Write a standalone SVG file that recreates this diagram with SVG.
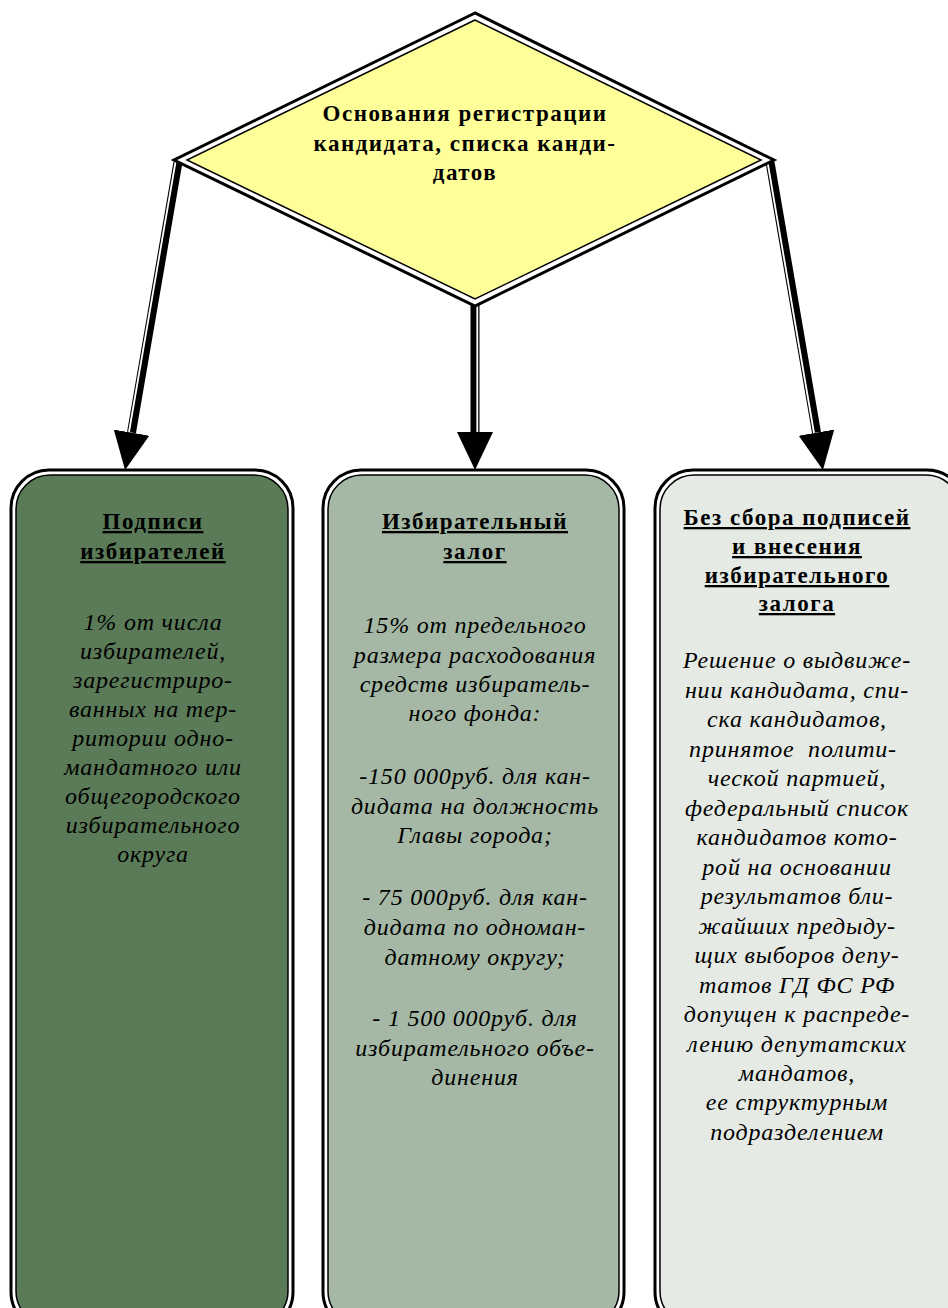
<svg xmlns="http://www.w3.org/2000/svg" width="948" height="1308" viewBox="0 0 948 1308">
<defs>
<style>
.ttl{font-family:"Liberation Serif",serif;font-weight:bold;font-size:23px;letter-spacing:1.5px;fill:#000;text-anchor:middle;text-decoration:underline}
.dtx{font-family:"Liberation Serif",serif;font-weight:bold;font-size:23px;letter-spacing:1.5px;fill:#000;text-anchor:middle}
.bod{font-family:"Liberation Serif",serif;font-style:italic;font-size:24px;letter-spacing:0.8px;fill:#000;text-anchor:middle}
.outer{fill:#fff;stroke:#000;stroke-width:3}
.inner{stroke:#000;stroke-width:1.5}
.shaft{stroke:#000;stroke-width:9;fill:none}
.gap{stroke:#fff;stroke-width:1.8;fill:none}
</style>
<marker id="head" markerUnits="userSpaceOnUse" markerWidth="40" markerHeight="40" viewBox="0 -20 40 40" refX="0" refY="0" orient="auto">
<path d="M0,-18 L38,0 L0,18 Z" fill="#000"/>
</marker>
</defs>
<rect width="948" height="1308" fill="#fff"/>
<g id="connectors">
<line class="shaft" x1="178" y1="162" x2="131.5" y2="432.6" marker-end="url(#head)"/>
<line class="gap" x1="175.5" y1="162" x2="129" y2="432"/>
<line class="shaft" x1="475" y1="302" x2="475" y2="432" marker-end="url(#head)"/>
<line class="gap" x1="477.3" y1="302" x2="477.3" y2="432"/>
<line class="shaft" x1="770" y1="162" x2="816.5" y2="432.6" marker-end="url(#head)"/>
<line class="gap" x1="767.5" y1="162" x2="814" y2="433"/>
</g>
<g id="diamond">
<polygon class="outer" points="475,13 174,160 475,306 774,160"/>
<polygon class="inner" fill="#FFFF99" points="475,20 187,160 475,299 761,160"/>
<text class="dtx" x="465" y="121">Основания регистрации</text>
<text class="dtx" x="465" y="151">кандидата, списка канди-</text>
<text class="dtx" x="465" y="180">датов</text>
</g>
<g id="box1">
<rect class="outer" x="11" y="470" width="282" height="860" rx="38"/>
<rect class="inner" fill="#5A7A58" x="16" y="475" width="272" height="850" rx="34"/>
<text class="ttl" x="153" y="529">Подписи</text>
<text class="ttl" x="153" y="559">избирателей</text>
<text class="bod" x="153" y="630">1% от числа</text>
<text class="bod" x="153" y="659">избирателей,</text>
<text class="bod" x="153" y="688">зарегистриро-</text>
<text class="bod" x="153" y="717">ванных на тер-</text>
<text class="bod" x="153" y="746">ритории одно-</text>
<text class="bod" x="153" y="775">мандатного или</text>
<text class="bod" x="153" y="804">общегородского</text>
<text class="bod" x="153" y="833">избирательного</text>
<text class="bod" x="153" y="862">округа</text>
</g>
<g id="box2">
<rect class="outer" x="323" y="470" width="301" height="860" rx="38"/>
<rect class="inner" fill="#A5B8A5" x="328" y="475" width="291" height="850" rx="34"/>
<text class="ttl" x="475" y="529">Избирательный</text>
<text class="ttl" x="475" y="559">залог</text>
<text class="bod" x="475" y="633">15% от предельного</text>
<text class="bod" x="475" y="663">размера расходования</text>
<text class="bod" x="475" y="692">средств избиратель-</text>
<text class="bod" x="475" y="721">ного фонда:</text>
<text class="bod" x="475" y="784">-150 000руб. для кан-</text>
<text class="bod" x="475" y="814">дидата на должность</text>
<text class="bod" x="475" y="843">Главы города;</text>
<text class="bod" x="475" y="905">- 75 000руб. для кан-</text>
<text class="bod" x="475" y="935">дидата по одноман-</text>
<text class="bod" x="475" y="965">датному округу;</text>
<text class="bod" x="475" y="1026">- 1 500 000руб. для</text>
<text class="bod" x="475" y="1056">избирательного объе-</text>
<text class="bod" x="475" y="1085">динения</text>
</g>
<g id="box3">
<rect class="outer" x="655" y="470" width="310" height="860" rx="38"/>
<rect class="inner" fill="#E5EAE4" x="660" y="475" width="300" height="850" rx="34"/>
<text class="ttl" x="797" y="525">Без сбора подписей</text>
<text class="ttl" x="797" y="554">и внесения</text>
<text class="ttl" x="797" y="583">избирательного</text>
<text class="ttl" x="797" y="611">залога</text>
<text class="bod" x="797" y="668">Решение о выдвиже-</text>
<text class="bod" x="797" y="698">нии кандидата, спи-</text>
<text class="bod" x="797" y="727">ска кандидатов,</text>
<text class="bod" x="793" y="757" xml:space="preserve">принятое  полити-</text>
<text class="bod" x="797" y="786">ческой партией,</text>
<text class="bod" x="797" y="816">федеральный список</text>
<text class="bod" x="797" y="845">кандидатов кото-</text>
<text class="bod" x="797" y="875">рой на основании</text>
<text class="bod" x="797" y="904">результатов бли-</text>
<text class="bod" x="797" y="934">жайших предыду-</text>
<text class="bod" x="797" y="963">щих выборов депу-</text>
<text class="bod" x="797" y="993">татов ГД ФС РФ</text>
<text class="bod" x="797" y="1022">допущен к распреде-</text>
<text class="bod" x="797" y="1052">лению депутатских</text>
<text class="bod" x="797" y="1081">мандатов,</text>
<text class="bod" x="797" y="1110">ее структурным</text>
<text class="bod" x="797" y="1140">подразделением</text>
</g>
</svg>
